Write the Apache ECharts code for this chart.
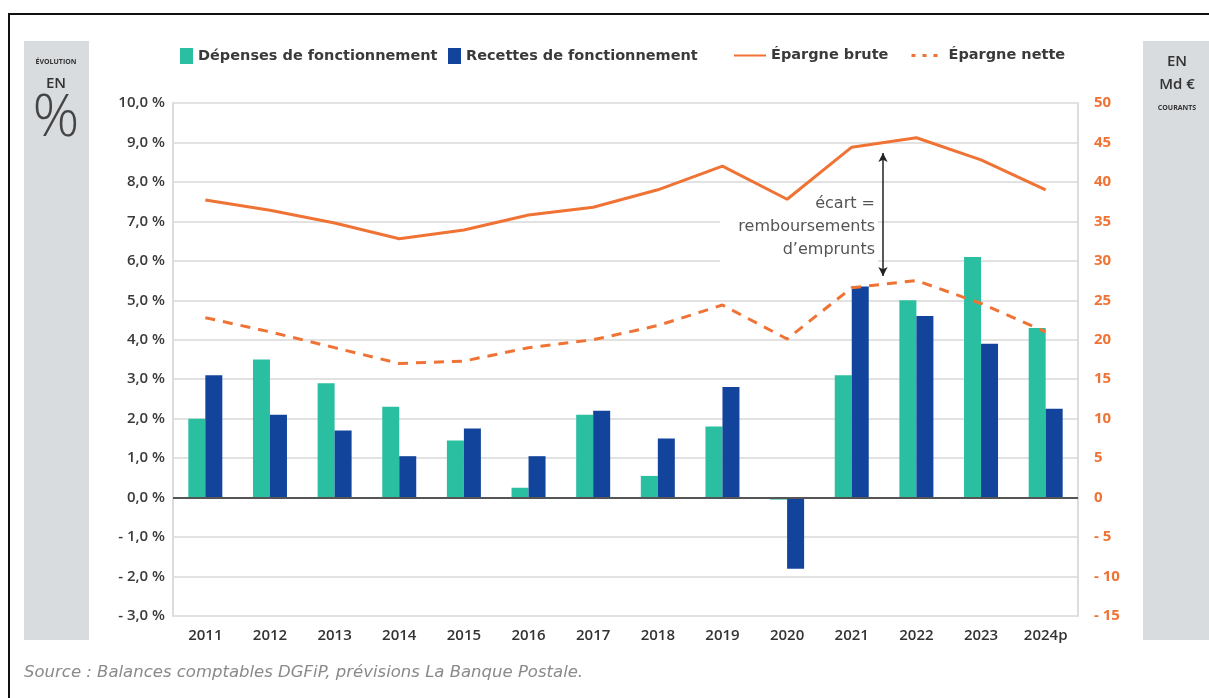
<!DOCTYPE html>
<html>
<head>
<meta charset="utf-8">
<script src="https://cdn.jsdelivr.net/npm/echarts@6/dist/echarts.min.js"></script>
<style>
  html, body { margin: 0; padding: 0; background: #fff; }
  #chart { width: 1209px; height: 698px; }
</style>
</head>
<body>
<div id="chart"></div>
<script>
// données
const annees = ['2011', '2012', '2013', '2014', '2015', '2016', '2017', '2018', '2019', '2020', '2021', '2022', '2023', '2024p'];
const depenses = [2.0, 3.5, 2.9, 2.3, 1.45, 0.25, 2.1, 0.55, 1.8, -0.05, 3.1, 5.0, 6.1, 4.3];
const recettes = [3.1, 2.1, 1.7, 1.05, 1.75, 1.05, 2.2, 1.5, 2.8, -1.8, 5.35, 4.6, 3.9, 2.25];
const epargneBrute = [37.7, 36.4, 34.8, 32.8, 33.9, 35.8, 36.8, 39.0, 42.0, 37.8, 44.4, 45.6, 42.8, 39.0];
const epargneNette = [22.8, 21.0, 19.0, 17.0, 17.3, 19.0, 20.0, 21.8, 24.4, 20.1, 26.6, 27.5, 24.6, 21.0];

const font = 'Open Sans';
const fontLarge = 'DejaVu Sans';
const teal = '#2bbfa1';
const bleu = '#12449b';
const orange = '#f07336';

const fmtPct = v => (v < 0 ? '- ' : '') + Math.abs(v).toFixed(1).replace('.', ',') + ' %';
const fmtMd = v => (v < 0 ? '- ' + Math.abs(v) : String(v));

const legendText = { fontFamily: fontLarge, fontSize: 14.5, fontWeight: 'bold', color: '#3a3a3a' };
const legendItem = (name, left, extra) => Object.assign({
  data: [name], left: left, top: 43,
  textStyle: legendText
}, extra);

const chart = echarts.init(document.getElementById('chart'));

const option = {
  backgroundColor: '#fff',
  animation: false,
  textStyle: { fontFamily: font },
  grid: { left: 173, right: 131, top: 103, bottom: 82, containLabel: false },
  legend: [
    legendItem('Dépenses de fonctionnement', 175, { icon: 'rect', itemWidth: 13, itemHeight: 16 }),
    legendItem('Recettes de fonctionnement', 443, { icon: 'rect', itemWidth: 13, itemHeight: 16 }),
    legendItem('Épargne brute', 728, { itemWidth: 32, itemHeight: 16, itemStyle: { opacity: 0 } }),
    legendItem({ name: 'Épargne nette', lineStyle: { type: [4, 7], width: 3, color: orange } }, 905,
      { itemWidth: 32, itemHeight: 16, itemStyle: { opacity: 0 } })
  ],
  xAxis: {
    type: 'category',
    data: annees,
    axisLine: { show: false },
    axisTick: { show: false },
    axisLabel: { fontFamily: font, fontSize: 15, fontWeight: 600, color: '#333', margin: 12 }
  },
  yAxis: [
    {
      type: 'value', min: -3, max: 10, interval: 1,
      axisLine: { show: true, lineStyle: { color: '#ddd', width: 2 } },
      axisTick: { show: false },
      splitLine: { lineStyle: { color: '#e2e2e2', width: 2 } },
      axisLabel: { formatter: fmtPct, fontFamily: font, fontSize: 15, fontWeight: 600, color: '#3a3a3a', margin: 8 }
    },
    {
      type: 'value', min: -15, max: 50, interval: 5,
      axisLine: { show: true, lineStyle: { color: '#ddd', width: 2 } },
      axisTick: { show: false },
      splitLine: { show: false },
      axisLabel: { formatter: fmtMd, fontFamily: font, fontSize: 15, fontWeight: 700, color: orange, margin: 16 }
    }
  ],
  series: [
    {
      name: 'Dépenses de fonctionnement', type: 'bar', data: depenses,
      barWidth: 17, barGap: '0%',
      itemStyle: { color: teal },
      markLine: {
        silent: true, symbol: 'none', label: { show: false },
        lineStyle: { color: '#555', width: 2, type: 'solid' },
        data: [{ yAxis: 0 }]
      }
    },
    {
      name: 'Recettes de fonctionnement', type: 'bar', data: recettes,
      barWidth: 17,
      itemStyle: { color: bleu }
    },
    {
      name: 'Épargne brute', type: 'line', yAxisIndex: 1, data: epargneBrute,
      symbol: 'none', z: 5,
      lineStyle: { color: orange, width: 3 },
      itemStyle: { color: orange }
    },
    {
      name: 'Épargne nette', type: 'line', yAxisIndex: 1, data: epargneNette,
      symbol: 'none', z: 5,
      lineStyle: { color: orange, width: 3, type: [10, 8] },
      itemStyle: { color: orange },
      markLine: {
        silent: true, symbol: ['arrow', 'arrow'], symbolSize: [7, 9],
        label: { show: false },
        lineStyle: { color: '#222', width: 1.5, type: 'solid' },
        data: [[{ x: 883, y: 153 }, { x: 883, y: 276 }]]
      }
    }
  ],
  graphic: [
    // cadre
    { type: 'rect', shape: { x: 9, y: 14, width: 1400, height: 900 }, style: { fill: 'none', stroke: '#111', lineWidth: 2 }, z: 100 },
    // panneau gauche
    { type: 'rect', shape: { x: 24, y: 41, width: 65, height: 599 }, style: { fill: '#d9dcdf' }, z: -1 },
    { type: 'text', x: 56, y: 58, style: { text: 'ÉVOLUTION', fontFamily: font, fontSize: 7, fontWeight: 700, fill: '#333', align: 'center' } },
    { type: 'text', x: 56, y: 76, style: { text: 'EN', fontFamily: font, fontSize: 15, fontWeight: 600, fill: '#333', align: 'center' } },
    { type: 'text', x: 56, y: 90, style: { text: '%', fontFamily: font, fontSize: 58, fontWeight: 300, fill: '#444', align: 'center' } },
    // panneau droit
    { type: 'rect', shape: { x: 1143, y: 41, width: 80, height: 599 }, style: { fill: '#d9dcdf' }, z: -1 },
    { type: 'text', x: 1177, y: 54, style: { text: 'EN', fontFamily: font, fontSize: 15, fontWeight: 600, fill: '#333', align: 'center' } },
    { type: 'text', x: 1177, y: 77, style: { text: 'Md €', fontFamily: font, fontSize: 15, fontWeight: 600, fill: '#333', align: 'center' } },
    { type: 'text', x: 1177, y: 104, style: { text: 'COURANTS', fontFamily: font, fontSize: 7, fontWeight: 700, fill: '#333', align: 'center' } },
    // annotation
    { type: 'rect', shape: { x: 720, y: 190, width: 158, height: 78 }, style: { fill: '#fff' }, z: 1 },
    { type: 'text', x: 875, y: 192, z: 2, style: { text: 'écart =\nremboursements\nd\u2019emprunts', fontFamily: fontLarge, fontSize: 16, lineHeight: 23, fill: '#555', align: 'right' } },
    // source
    { type: 'text', x: 24, y: 664, style: { text: 'Source : Balances comptables DGFiP, prévisions La Banque Postale.', fontFamily: fontLarge, fontSize: 16.5, fontStyle: 'italic', fill: '#8a8a8a' } }
  ]
};

chart.setOption(option);
</script>
</body>
</html>
